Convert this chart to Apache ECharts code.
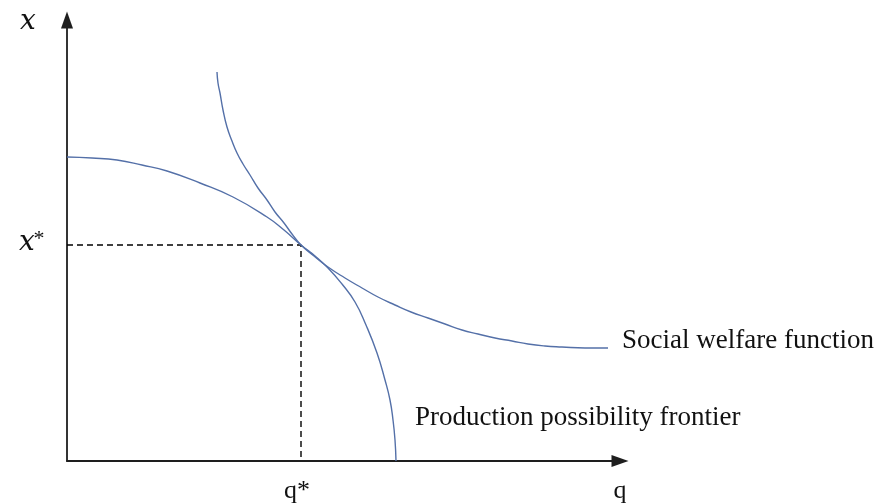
<!DOCTYPE html>
<html><head><meta charset="utf-8">
<script src="https://cdn.jsdelivr.net/npm/echarts@6/dist/echarts.min.js"></script>
<style>html,body{margin:0;padding:0;background:#fff}#c{width:889px;height:504px}</style>
</head><body><div id="c"></div>
<script>
// Production possibility frontier (q, x)
const ppfQ = [0, 25, 50, 75, 100, 133, 166, 200, 217, 234, 248, 261, 275, 288, 299, 310, 318, 323, 326, 328, 329];
const ppfX = [304, 303, 301, 296, 290, 278, 264, 244, 231, 216, 205, 193, 177, 159, 136, 108, 81, 61, 41, 21, 0];
// Social welfare function (q, x)
const swfQ = [150, 151, 153, 156, 160, 165, 170, 176, 183, 191, 200, 208, 217, 225, 234, 247, 261, 278, 295, 311, 328, 344, 361, 378, 395, 411, 428, 445, 461, 478, 495, 518, 541];
const swfX = [389, 378, 368, 351, 334, 320, 308, 297, 286, 273, 261, 249, 238, 227, 216, 205, 194, 183, 173, 164, 156, 149, 143, 137, 131, 127, 123, 120, 117, 115, 114, 113, 113];
// optimum point (q*, x*)
const optimum = [234, 216];
const qMax = 553;
const xMax = 441;
const labels = {
  yAxis: 'x', xAxis: 'q', xStar: 'x', qStar: 'q*',
  swf: 'Social welfare function', ppf: 'Production possibility frontier'
};

const zip = (a, b) => a.map((v, i) => [v, b[i]]);
const chart = echarts.init(document.getElementById('c'), null, {renderer: 'canvas'});
const curveColor = '#5470a8';
const axisCommon = {
  type: 'value', min: 0,
  axisLine: {show: true, onZero: false, symbol: ['none', 'triangle'], symbolSize: [12, 17],
    lineStyle: {color: '#1e1e1e', width: 1.8}},
  axisTick: {show: false}, axisLabel: {show: false}, splitLine: {show: false}
};
chart.setOption({
  animation: false,
  backgroundColor: '#fff',
  grid: {left: 67, right: 269, top: 20, bottom: 43, containLabel: false},
  xAxis: Object.assign({}, axisCommon, {max: qMax}),
  yAxis: Object.assign({}, axisCommon, {max: xMax}),
  series: [
    {type: 'line', data: [[0, optimum[1]], optimum, [optimum[0], 0]], symbol: 'none',
      lineStyle: {color: '#000', width: 1.4, type: [6, 4]}, z: 1},
    {type: 'line', data: zip(ppfQ, ppfX), smooth: 0.5, symbol: 'none',
      lineStyle: {color: curveColor, width: 1.4}, z: 2},
    {type: 'line', data: zip(swfQ, swfX), smooth: 0.5, symbol: 'none',
      lineStyle: {color: curveColor, width: 1.4}, z: 2}
  ]
});

const px = p => chart.convertToPixel({gridIndex: 0}, p);
const O = px([0, 0]);
const P = px(optimum);
const yTop = px([0, xMax]);
const xEnd = px([qMax, 0]);
const swfEnd = px([swfQ[swfQ.length - 1], swfX[swfX.length - 1]]);
const ppfEnd = px([ppfQ[ppfQ.length - 1], ppfX[ppfX.length - 1]]);
const serif = '"Liberation Serif", "Times New Roman", serif';
const ital = '"DejaVu Serif", serif';
const txt = (text, x, y, font, size, italic, align) => ({
  type: 'text', x: x, y: y,
  style: {text: text, fontFamily: font, fontSize: size, fontStyle: italic ? 'italic' : 'normal',
    fill: '#111', align: align || 'center', verticalAlign: 'middle'}
});
chart.setOption({graphic: [
  txt(labels.yAxis, O[0] - 39, yTop[1] + 2, ital, 28, true),
  txt(labels.xStar, O[0] - 40, P[1] - 2, ital, 28, true),
  txt('*', O[0] - 28, P[1] - 6, serif, 22),
  txt(labels.qStar, P[0] - 4, O[1] + 30, serif, 26),
  txt(labels.xAxis, xEnd[0], O[1] + 30, serif, 26),
  txt(labels.swf, swfEnd[0] + 14, swfEnd[1] - 7, serif, 27, false, 'left'),
  txt(labels.ppf, ppfEnd[0] + 19, ppfEnd[1] - 43, serif, 27, false, 'left')
]});
</script>
</body></html>
